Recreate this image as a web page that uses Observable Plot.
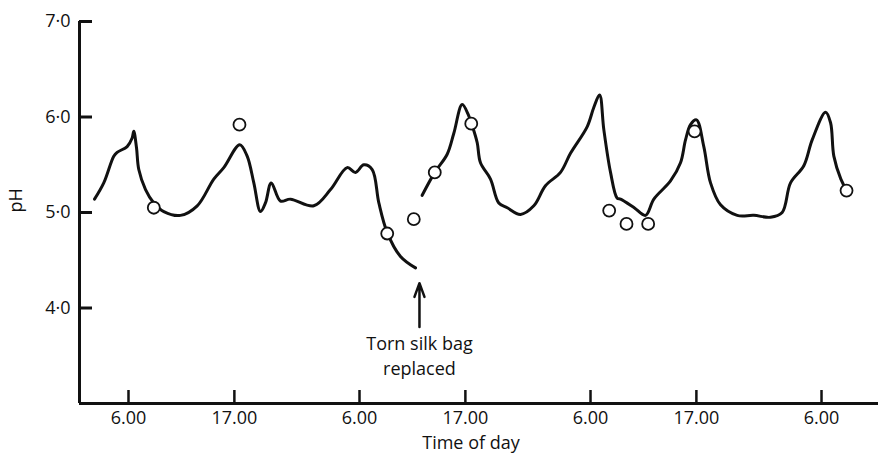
<!DOCTYPE html>
<html>
<head>
<meta charset="utf-8">
<script src="https://cdn.jsdelivr.net/npm/d3@7"></script>
<script src="https://cdn.jsdelivr.net/npm/@observablehq/plot@0.6"></script>
<style>
  html, body { margin: 0; padding: 0; background: #fff; }
</style>
</head>
<body>
<div id="chart"></div>
<script>
// Hours from the first 06.00 mark
const seg1Hours = [-3.53, -2.57, -1.53, -1.18, -0.14, 0.38, 0.55, 0.83, 1.07, 1.77, 2.63, 3.67, 5.40, 7.14, 8.86, 9.90, 11.56, 12.33, 13.02, 13.71, 14.23, 14.83, 15.79, 16.83, 19.25, 20.99, 22.72, 23.58, 24.45, 25.32, 26.01, 26.88, 28.26, 29.82];
const seg1PH    = [5.14, 5.31, 5.59, 5.63, 5.69, 5.78, 5.85, 5.68, 5.45, 5.24, 5.10, 5.01, 4.97, 5.07, 5.35, 5.47, 5.71, 5.59, 5.31, 5.01, 5.10, 5.31, 5.12, 5.14, 5.07, 5.24, 5.47, 5.42, 5.50, 5.45, 5.10, 4.79, 4.54, 4.42];

const seg2Hours = [30.51, 31.82, 33.11, 33.80, 34.67, 35.36, 35.74, 36.23, 36.57, 37.61, 38.47, 39.35, 40.73, 42.11, 43.32, 44.88, 45.92, 47.66, 48.34, 48.94, 49.38, 50.08, 50.77, 51.12, 52.54, 53.71, 54.58, 56.31, 57.35, 57.87, 58.39, 59.01, 59.77, 60.47, 61.51, 63.24, 64.97, 66.70, 67.91, 68.78, 70.16, 71.03, 72.42, 72.94, 73.28, 74.01, 74.63];
const seg2PH    = [5.18, 5.42, 5.61, 5.83, 6.13, 6.01, 5.90, 5.73, 5.52, 5.35, 5.10, 5.05, 4.98, 5.07, 5.28, 5.42, 5.62, 5.90, 6.10, 6.23, 5.87, 5.42, 5.15, 5.14, 5.05, 4.97, 5.14, 5.33, 5.52, 5.76, 5.92, 5.97, 5.69, 5.31, 5.08, 4.97, 4.97, 4.95, 5.00, 5.31, 5.49, 5.76, 6.05, 5.94, 5.59, 5.35, 5.23];

const obsHours = [2.63, 11.53, 26.88, 29.64, 31.82, 35.61, 49.94, 51.74, 53.99, 58.81, 74.60];
const obsPH    = [5.05, 5.92, 4.78, 4.93, 5.42, 5.93, 5.02, 4.88, 4.88, 5.85, 5.23];

const xTickHours  = [0, 11, 24, 35, 48, 59, 72];
const xTickLabels = ["6.00", "17.00", "6.00", "17.00", "6.00", "17.00", "6.00"];
const yTicks      = [4, 5, 6, 7];
const yTickLabels = ["4·0", "5·0", "6·0", "7·0"];

const annotationHour = 30.23;
const annotationText = "Torn silk bag\nreplaced";

const xDomain = [-5.09, 77.92];
const yDomain = [3, 7];

const seg1 = seg1Hours.map((h, i) => ({h, ph: seg1PH[i]}));
const seg2 = seg2Hours.map((h, i) => ({h, ph: seg2PH[i]}));
const obs = obsHours.map((h, i) => ({h, ph: obsPH[i]}));

const font = "'Open Sans', Lato, sans-serif";

const chart = Plot.plot({
  width: 884,
  height: 453,
  marginLeft: 79,
  marginRight: 6,
  marginTop: 21,
  marginBottom: 50,
  style: {fontFamily: font, fontSize: "18px", color: "#111", background: "#fff"},
  x: {domain: xDomain},
  y: {domain: yDomain},
  marks: [
    Plot.ruleX([xDomain[0]], {y1: 3, y2: 7, stroke: "#111", strokeWidth: 3}),
    Plot.ruleY([3], {stroke: "#111", strokeWidth: 3}),
    Plot.axisY({ticks: yTicks, tickFormat: d => yTickLabels[yTicks.indexOf(d)], tickSize: -13, tickPadding: 22, strokeWidth: 3, fontSize: 18, label: null}),
    Plot.axisX({ticks: xTickHours, tickFormat: d => xTickLabels[xTickHours.indexOf(d)], tickSize: -13, tickPadding: 21, strokeWidth: 2.5, fontSize: 18, label: null}),
    Plot.line(seg1, {x: "h", y: "ph", curve: "catmull-rom", stroke: "#111", strokeWidth: 3}),
    Plot.line(seg2, {x: "h", y: "ph", curve: "catmull-rom", stroke: "#111", strokeWidth: 3}),
    Plot.dot(obs, {x: "h", y: "ph", r: 6, fill: "#fff", stroke: "#111", strokeWidth: 1.8}),
    Plot.arrow([annotationHour], {x1: d => d, x2: d => d, y1: 3.80, y2: 4.26, stroke: "#111", strokeWidth: 2.5, headLength: 12, headAngle: 40}),
    Plot.text([annotationText], {x: annotationHour, y: 3.51, lineAnchor: "middle", lineHeight: 1.38, fontSize: 18, fill: "#111"}),
    Plot.text(["pH"], {frameAnchor: "left", dx: -63, rotate: -90, fontSize: 18, fill: "#111"}),
    Plot.text(["Time of day"], {frameAnchor: "bottom", dx: -8, dy: 40, lineAnchor: "middle", fontSize: 18, fill: "#111"})
  ]
});
document.getElementById("chart").appendChild(chart);
</script>
</body>
</html>
